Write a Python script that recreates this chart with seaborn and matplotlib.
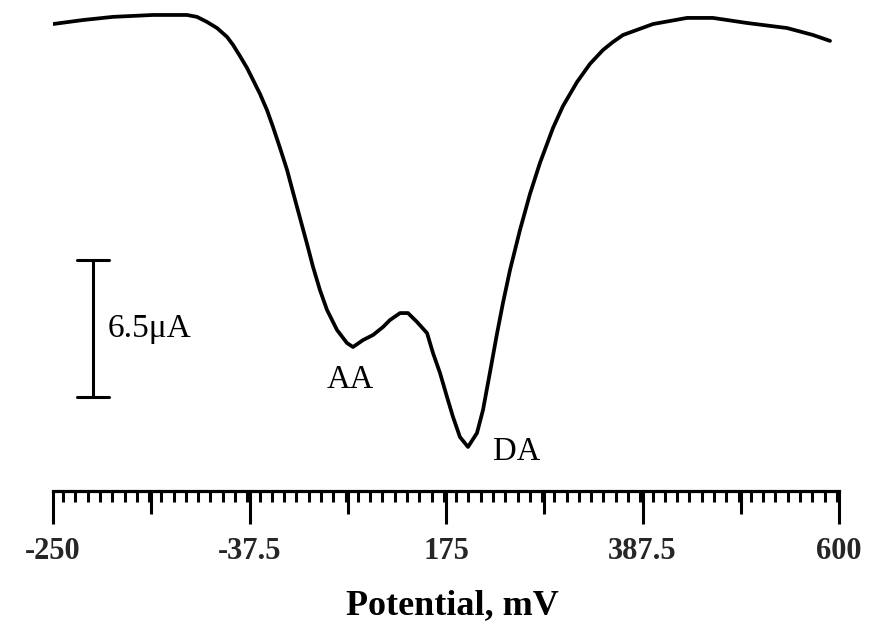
import numpy as np
import pandas as pd
import matplotlib
matplotlib.use("Agg")
import matplotlib.pyplot as plt
from matplotlib.ticker import MultipleLocator, FixedLocator, NullFormatter
import seaborn as sns

# ---- data ----
potential_mV = [-250.0, -217.6, -185.1, -141.9, -105.1, -94.3, -83.5, -72.6, -61.8, -55.3,
                -47.8, -40.2, -33.7, -26.1, -18.6, -12.1, -4.5, 3.1,
                9.5, 17.1, 24.7, 31.2, 38.7, 46.3, 57.1, 67.9, 74.4, 85.3,
                96.1, 106.9, 114.4, 125.3, 133.9, 143.6, 154.5, 160.9, 168.5, 176.1,
                182.6, 190.1, 198.8, 208.5, 215.0, 222.6, 230.1, 236.6, 244.2, 255.0,
                265.8, 276.6, 290.7, 301.5, 316.7, 330.7, 344.8, 355.6, 366.4, 398.9,
                435.6, 463.7, 500.5, 543.8, 571.9, 590.3]
current_uA = [-0.43, -0.24, -0.09, 0.00, 0.00, -0.09, -0.33, -0.62, -1.04, -1.42,
              -1.95, -2.51, -3.08, -3.75, -4.51, -5.31, -6.31, -7.35,
              -8.40, -9.63, -10.86, -11.95, -13.05, -13.99, -14.94, -15.56, -15.75, -15.42,
              -15.18, -14.80, -14.47, -14.14, -14.14, -14.56, -15.09, -16.03, -16.98, -18.12,
              -19.07, -20.02, -20.49, -19.83, -18.74, -16.94, -15.13, -13.66, -12.10, -10.20,
              -8.49, -7.02, -5.36, -4.32, -3.18, -2.32, -1.66, -1.28, -0.95, -0.43,
              -0.14, -0.14, -0.38, -0.62, -0.95, -1.23]
major_ticks = [-250, -37.5, 175, 387.5, 600]
major_labels = ["-250", "-37.5", "175", "387.5", "600"]
medium_ticks = [-143.75, 68.75, 281.25, 493.75]
peak_labels = ["AA", "DA"]
peak_pos = [(71.2, -17.32), (251.8, -20.73)]
scale_bar_uA = 6.5
scale_bar_label = "6.5\u03bcA"

df = pd.DataFrame({"Potential": potential_mV, "Current": current_uA})

sns.set_theme(style="white")
plt.rcParams["font.family"] = ["Liberation Serif", "DejaVu Serif"]

fig = plt.figure(figsize=(8.71, 6.21), dpi=100)
ax = fig.add_axes([53 / 871, 130 / 621, 786 / 871, 491 / 621])

sns.lineplot(data=df, x="Potential", y="Current", ax=ax, color="black",
             linewidth=2.7, sort=False)
for ln in ax.get_lines():
    ln.set_solid_joinstyle("round")
    ln.set_solid_capstyle("round")

ax.set_xlim(-250, 600)
ax.set_ylim(-22.58, 0.71)

for s in ["left", "right", "top"]:
    ax.spines[s].set_visible(False)
ax.spines["bottom"].set_linewidth(2.3)
ax.spines["bottom"].set_color("black")
ax.spines["bottom"].set_capstyle("projecting")

ax.set_yticks([])
ax.set_ylabel("")
ax.xaxis.set_major_locator(FixedLocator(major_ticks))
ax.set_xticklabels(major_labels)
ax.xaxis.set_minor_locator(MultipleLocator(212.5 / 16))
ax.tick_params(axis="x", which="major", direction="out", length=24, width=2.2,
               color="black", pad=9, labelsize=22, bottom=True)
ax.tick_params(axis="x", which="minor", direction="out", length=8, width=2.2,
               color="black", bottom=True)
for lab in ax.get_xticklabels():
    lab.set_fontweight("bold")

sec = ax.secondary_xaxis("bottom")
sec.set_xticks(medium_ticks)
sec.xaxis.set_major_formatter(NullFormatter())
sec.tick_params(axis="x", which="major", direction="out", length=16.5, width=2.2,
                color="black")
sec.tick_params(axis="x", which="minor", bottom=False)
sec.spines["bottom"].set_visible(False)

ax.set_xlabel("Potential, mV", fontsize=26, fontweight="bold", labelpad=17, color="black")
ax.xaxis.label.set_x(0.508)

# scale bar
bx = -206.7
top = -11.62
bot = top - scale_bar_uA
ax.plot([bx, bx], [top, bot], color="black", lw=2.2)
ax.plot([bx - 17.3, bx + 17.3], [top, top], color="black", lw=2.2)
ax.plot([bx - 17.3, bx + 17.3], [bot, bot], color="black", lw=2.2)
ax.text(-190.5, (top + bot) / 2, scale_bar_label, ha="left", va="center",
        fontsize=24, color="black")

for lab, (px, py) in zip(peak_labels, peak_pos):
    ax.text(px, py, lab, ha="center", va="center", fontsize=23.5, color="black")

fig.savefig("out.png", dpi=100)
